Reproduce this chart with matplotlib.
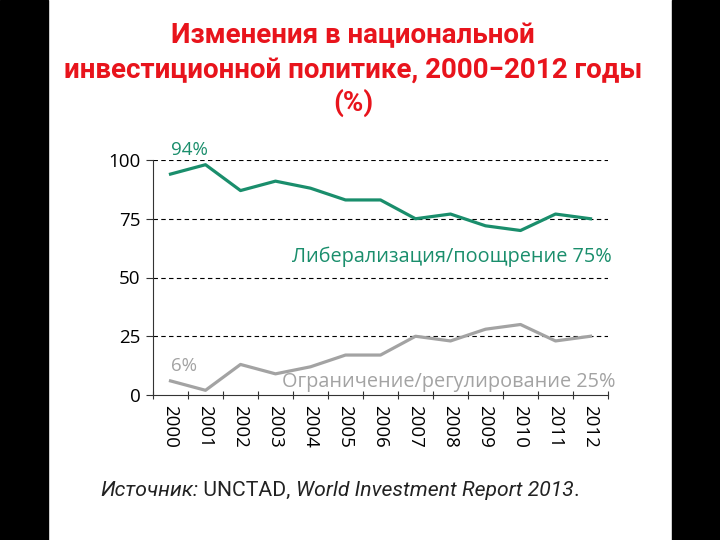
import numpy as np
import matplotlib.pyplot as plt
from matplotlib.patches import Rectangle

# данные (оценка по рисунку)
years = ['2000', '2001', '2002', '2003', '2004', '2005', '2006',
         '2007', '2008', '2009', '2010', '2011', '2012']
liberalization = [94, 98, 87, 91, 88, 83, 83, 75, 77, 72, 70, 77, 75]
restriction = [6, 2, 13, 9, 12, 17, 17, 25, 23, 28, 30, 23, 25]
y_ticks = [0, 25, 50, 75, 100]

GREEN = '#1a8e6c'
GRAY = '#a3a3a3'
RED = '#e8141c'

plt.rcParams['font.family'] = ['Open Sans', 'DejaVu Sans']

fig = plt.figure(figsize=(7.2, 5.4), dpi=100)
fig.patch.set_facecolor('white')

# чёрные поля слева и справа
fig.patches.append(Rectangle((0, 0), 48 / 720, 1, transform=fig.transFigure,
                             color='black', zorder=0))
fig.patches.append(Rectangle((672 / 720, 0), 48 / 720, 1, transform=fig.transFigure,
                             color='black', zorder=0))

ax = fig.add_axes([153 / 720, 1 - 395 / 540, 455 / 720, 235 / 540])
x = np.arange(len(years))
ax.plot(x, liberalization, color=GREEN, lw=2.3, clip_on=False, zorder=3)
ax.plot(x, restriction, color=GRAY, lw=2.3, clip_on=False, zorder=3)

ax.set_xlim(-0.5, len(years) - 0.5)
ax.set_ylim(0, 100)
for v in y_ticks[1:]:
    ax.axhline(v, color='black', lw=0.8, ls=(0, (4, 3)), zorder=1)

ax.spines['top'].set_visible(False)
ax.spines['right'].set_visible(False)
ax.spines['left'].set_color('#333333')
ax.spines['bottom'].set_color('#333333')

ax.set_yticks(y_ticks)
ax.set_yticklabels([str(v) for v in y_ticks])
ax.tick_params(axis='y', length=5, width=0.8, pad=4, labelsize=13.5, colors='#333333',
               labelcolor='black')

ax.set_xticks(x)
ax.set_xticklabels(years, rotation=270, fontsize=13.5)
ax.tick_params(axis='x', length=0, pad=7)
ax.set_xticks(np.arange(-0.5, len(years)), minor=True)
ax.tick_params(axis='x', which='minor', length=6, width=0.8, direction='inout',
               colors='#333333')

ax.text(0, 100.5, '94%', color=GREEN, fontsize=13.5, ha='left', va='bottom')
ax.text(0, 8.5, '6%', color=GRAY, fontsize=13.5, ha='left', va='bottom')
ax.text(12.6, 59, 'Либерализация/поощрение 75%', color=GREEN, fontsize=14.3,
        ha='right', va='center')
ax.text(12.72, 5.5, 'Ограничение/регулирование 25%', color=GRAY, fontsize=14.3,
        ha='right', va='center')

title_font = ['Roboto', 'DejaVu Sans']
title_lines = ['Изменения в национальной',
               'инвестиционной политике, 2000−2012 годы',
               '(%)']
for line, yp in zip(title_lines, [36, 70, 103]):
    fig.text(353 / 720, 1 - yp / 540, line, color=RED, fontsize=20, fontweight='bold',
             family=title_font, ha='center', va='center')

# источник: курсив и прямой шрифт вперемешку
src_font = ['Roboto', 'DejaVu Sans']
prev = fig.text(100 / 720, 1 - 496 / 540, 'Источник:', fontsize=15.2, style='italic',
                family=src_font, color='#222222', ha='left', va='baseline')
parts = [(' UNCTAD, ', 'normal'), ('World Investment Report 2013', 'italic'),
         ('.', 'normal')]
for s, st in parts:
    prev = ax.annotate(s, xy=(1, 0), xycoords=prev, fontsize=15.2, style=st,
                       family=src_font, color='#222222', ha='left', va='bottom',
                       annotation_clip=False)

fig.savefig('out.png', dpi=100)
